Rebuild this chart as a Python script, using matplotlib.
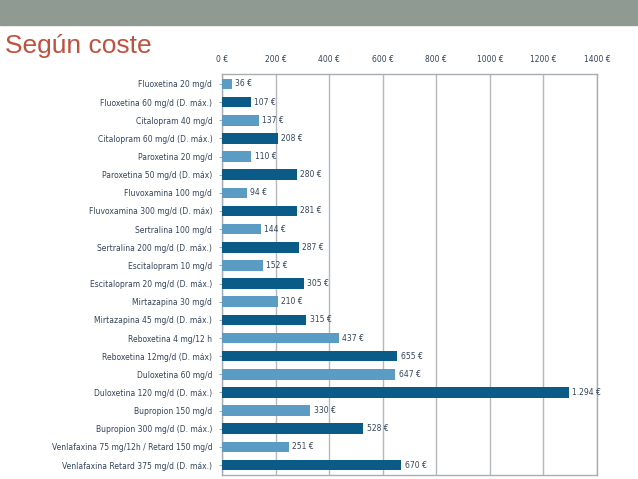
import matplotlib
matplotlib.use('Agg')
import matplotlib.pyplot as plt
from matplotlib import font_manager

# datos
farmacos = ['Fluoxetina 20 mg/d', 'Fluoxetina 60 mg/d (D. máx.)',
            'Citalopram 40 mg/d', 'Citalopram 60 mg/d (D. máx.)',
            'Paroxetina 20 mg/d', 'Paroxetina 50 mg/d (D. máx)',
            'Fluvoxamina 100 mg/d', 'Fluvoxamina 300 mg/d (D. máx)',
            'Sertralina 100 mg/d', 'Sertralina 200 mg/d (D. máx.)',
            'Escitalopram 10 mg/d', 'Escitalopram 20 mg/d (D. máx.)',
            'Mirtazapina 30 mg/d', 'Mirtazapina 45 mg/d (D. máx.)',
            'Reboxetina 4 mg/12 h', 'Reboxetina 12mg/d (D. máx)',
            'Duloxetina 60 mg/d', 'Duloxetina 120 mg/d (D. máx.)',
            'Bupropion 150 mg/d', 'Bupropion 300 mg/d (D. máx.)',
            'Venlafaxina 75 mg/12h / Retard 150 mg/d',
            'Venlafaxina Retard 375 mg/d (D. máx.)']
coste = [36, 107, 137, 208, 110, 280, 94, 281, 144, 287, 152, 305,
         210, 315, 437, 655, 647, 1294, 330, 528, 251, 670]
xticks = [0, 200, 400, 600, 800, 1000, 1200, 1400]

claro = '#5b9cc4'
oscuro = '#0b5b88'
texto = '#34445a'

nombres = {f.name for f in font_manager.fontManager.ttflist}
fuente = ['Liberation Sans Narrow'] if 'Liberation Sans Narrow' in nombres else []
fuente += ['DejaVu Sans']

fig = plt.figure(figsize=(6.38, 4.79), dpi=100)

# franja superior
fig.patches.append(plt.Rectangle((0, 1 - 25 / 479), 1, 25 / 479,
                                 transform=fig.transFigure,
                                 color='#8e9a92', zorder=0))
fig.text(5 / 638, 1 - 53 / 479, 'Según coste', color='#c0513f',
         fontsize=19, family=['Liberation Sans', 'DejaVu Sans'])

ax = fig.add_axes([222 / 638, 4 / 479, 375 / 638, 401 / 479])

y = list(range(len(coste)))
colores = [claro if i % 2 == 0 else oscuro for i in y]
ax.barh(y, coste, height=0.58, color=colores, zorder=3)

for yi, v in zip(y, coste):
    etiqueta = '{:,} €'.format(v).replace(',', '.')
    ax.text(v + 12, yi, etiqueta, va='center', ha='left', fontsize=5.5,
            color=texto, family=fuente, zorder=4)

ax.set_xlim(0, 1400)
ax.set_ylim(len(coste) - 0.45, -0.55)
ax.set_xticks(xticks)
ax.set_xticklabels(['{} €'.format(t) for t in xticks])
ax.xaxis.tick_top()
ax.set_yticks(y)
ax.set_yticklabels(farmacos)
ax.tick_params(axis='x', length=0, pad=7, labelsize=5.5, labelcolor=texto)
ax.tick_params(axis='y', length=2, width=0.6, color='#999999', pad=5,
               labelsize=5.5, labelcolor=texto)
for label in ax.get_xticklabels() + ax.get_yticklabels():
    label.set_family(fuente)

ax.grid(axis='x', color='#b5b9bd', linewidth=1.0, zorder=0)
for s in ax.spines.values():
    s.set_color('#a8adb2')
    s.set_linewidth(1.0)

fig.savefig('out.png', dpi=100)
